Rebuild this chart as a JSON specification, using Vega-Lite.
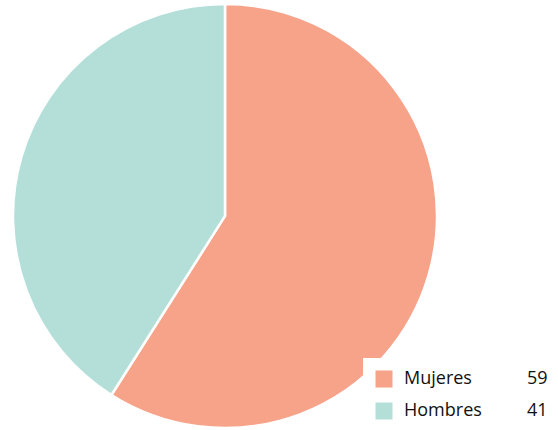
{
  "$schema": "https://vega.github.io/schema/vega-lite/v6.json",
  "autosize": {"type": "none"},
  "width": 450,
  "height": 428,
  "padding": {"left": 0, "top": 2, "right": 108, "bottom": 0},
  "background": "white",
  "config": {"view": {"stroke": null}, "font": "Open Sans"},
  "data": {
    "values": [
      {"sexo": "Mujeres", "valor": 59, "etiqueta": "59", "orden": 1},
      {"sexo": "Hombres", "valor": 41, "etiqueta": "41", "orden": 2}
    ]
  },
  "mark": {"type": "arc", "outerRadius": 212, "stroke": "white", "strokeWidth": 2.5},
  "encoding": {
    "theta": {"field": "valor", "type": "quantitative", "stack": true},
    "order": {"field": "orden", "type": "quantitative"},
    "color": {
      "field": "sexo",
      "type": "nominal",
      "scale": {"domain": ["Mujeres", "Hombres"], "range": ["#f7a38a", "#b3dfd8"]},
      "legend": {
        "title": null,
        "orient": "none",
        "legendX": 363,
        "legendY": 356,
        "fillColor": "white",
        "padding": 12,
        "symbolType": "square",
        "symbolSize": 289,
        "symbolStrokeWidth": 0,
        "labelFontSize": 18,
        "labelFont": "Open Sans",
        "labelColor": "#111111",
        "labelOffset": 11,
        "rowPadding": 14,
        "clipHeight": 18
      }
    },
    "opacity": {
      "field": "etiqueta",
      "type": "ordinal",
      "scale": {"domain": ["59", "41"], "range": [1, 1]},
      "legend": {
        "title": null,
        "orient": "none",
        "legendX": 509,
        "legendY": 368,
        "padding": 0,
        "symbolSize": 0,
        "symbolOpacity": 0,
        "symbolStrokeWidth": 0,
        "labelOffset": 0,
        "labelFontSize": 18,
        "labelFont": "Open Sans",
        "labelColor": "#111111",
        "rowPadding": 14,
        "clipHeight": 18
      }
    }
  }
}
